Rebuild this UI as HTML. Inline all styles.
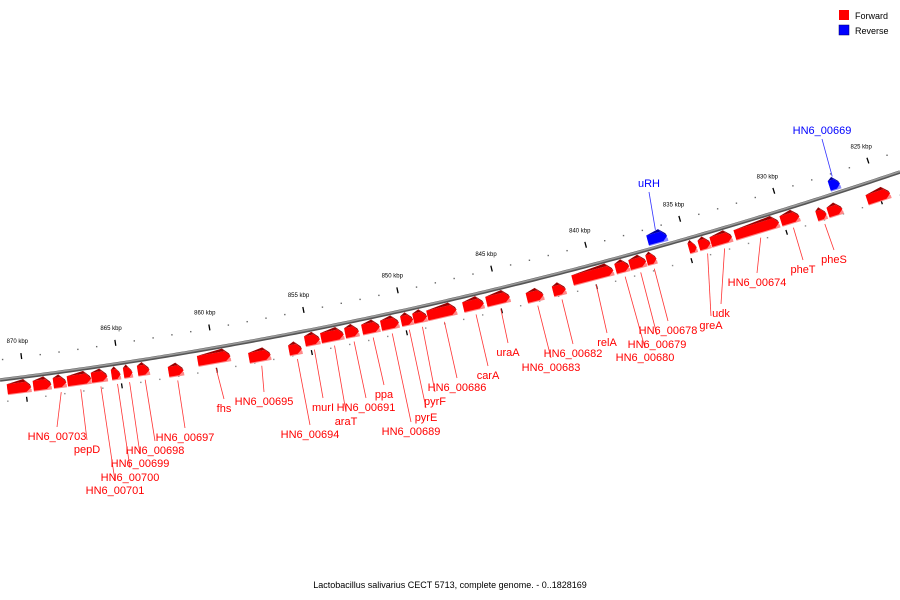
<!DOCTYPE html>
<html><head><meta charset="utf-8"><style>
body{margin:0;background:#fff;}
svg{display:block;font-family:"Liberation Sans",sans-serif;}
</style></head><body>
<svg id="map" width="900" height="600" viewBox="0 0 900 600" xmlns="http://www.w3.org/2000/svg">
<g>
<rect x="839" y="10" width="10" height="10" fill="#f00"/>
<text x="855" y="19" font-size="9" fill="#000">Forward</text>
<rect x="839" y="25" width="10" height="10" fill="#00f" stroke="#006" stroke-width="0.5"/>
<text x="855" y="34" font-size="9" fill="#000">Reverse</text>
</g>
<text x="450" y="588" font-size="9" text-anchor="middle" fill="#000">Lactobacillus salivarius CECT 5713, complete genome. - 0..1828169</text>
</svg>
<script>
// tick data (kbp)
const majorTicks = [870, 865, 860, 855, 850, 845, 840, 835, 830, 825];
const minorTicks = [871,869,868,867,866,864,863,862,861,859,858,857,856,854,853,852,851,849,848,847,846,844,843,842,841,839,838,837,836,834,833,832,831,829,828,827,826,824];
// forward genes (kbp)
const fwdStart = [870.95,869.58,868.52,867.78,866.51,865.45,864.81,864.07,862.49,860.90,858.25,856.14,855.24,854.39,853.12,852.22,851.22,850.16,849.52,848.78,846.88,845.66,843.60,842.22,841.11,838.84,838.10,837.20,834.97,834.44,833.81,832.54,830.11,828.31,827.72,825.66];
const fwdEnd   = [869.68,868.62,867.83,866.51,865.66,864.97,864.34,863.44,861.69,859.15,857.09,855.45,854.44,853.17,852.38,851.27,850.26,849.52,848.78,847.20,845.77,844.39,842.70,841.53,838.89,838.10,837.20,836.67,834.55,833.81,832.65,830.11,829.10,827.78,826.93,824.39];
const fwdLane  = [0,0,0,0,0,0,0,0,1,0,1,1,0,0,0,0,0,0,0,0,0,0,1,1,0,0,0,0,0,0,0,0,0,1,1,1];
// reverse genes
const revStart = [836.88, 827.25];
const revEnd   = [835.82, 826.67];
// labels: gene index, name, label position
const fwdLabelGene = [2,3,4,5,6,7,8,9,10,11,12,13,14,15,16,17,18,19,21,20,22,23,24,25,26,27,29,30,31,32,33];
const fwdLabelText = ["HN6_00703","pepD","HN6_00701","HN6_00700","HN6_00699","HN6_00698","HN6_00697","fhs","HN6_00695","HN6_00694","murI","araT","HN6_00691","ppa","HN6_00689","pyrE","pyrF","HN6_00686","uraA","carA","HN6_00683","HN6_00682","relA","HN6_00680","HN6_00679","HN6_00678","greA","udk","HN6_00674","pheT","pheS"];
const fwdLabelX = [57,87,115,130,140,155,185,224,264,310,323,346,366,384,411,426,435,457,508,488,551,573,607,645,657,668,711,721,757,803,834];
const fwdLabelY = [436,449,490,477,463,450,437,408,401,434,407,421,407,394,431,417,401,387,352,375,367,353,342,357,344,330,325,313,282,269,259];
const revLabelText = ["uRH","HN6_00669"];
const revLabelX = [649,822];
const revLabelY = [183,130];

const NS="http://www.w3.org/2000/svg";
const svg=document.getElementById('map');
function xOf(k){return 24+(870-k)*18.9;}
function curve(x){const t=x/900;return (1-t)*(1-t)*380+2*t*(1-t)*324+t*t*172;}
function slope(x){const t=x/900;return (2*(1-t)*(324-380)+2*t*(172-324))/900;}
function off(x,d){const a=Math.atan(slope(x));return [x-Math.sin(a)*d,curve(x)+Math.cos(a)*d];}
function mk(tag,attrs,parent){const e=document.createElementNS(NS,tag);for(const k in attrs)e.setAttribute(k,attrs[k]);(parent||svg).appendChild(e);return e;}

// backbone
let dPath="M0 "+curve(0);for(let x=5;x<=900;x+=5)dPath+=" L"+x+" "+curve(x).toFixed(2);
const bb2=mk('path',{d:dPath,fill:'none',stroke:'#555',"stroke-width":3.5});


const bb=mk('path',{d:dPath,fill:'none',stroke:'#999',"stroke-width":1.6,transform:'translate(0,-0.6)'});



// ticks
majorTicks.forEach(k=>{const x=xOf(k);const p1=off(x,-24),p2=off(x,-18);
 const l=mk('line',{x1:p1[0],y1:p1[1],x2:p2[0],y2:p2[1],stroke:'#000',"stroke-width":1.3});
 
 
 const lp=off(x,-36);
 const t=mk('text',{x:lp[0]-2,y:lp[1]+2,"font-size":6,"text-anchor":"middle",fill:'#000'});
 
 
 t.textContent=k+" kbp";
 const lb=off(x,20),lb2=off(x,25);
 const l2=mk('line',{x1:lb[0],y1:lb[1],x2:lb2[0],y2:lb2[1],stroke:'#000',"stroke-width":1.3});
 
 
});
minorTicks.forEach(k=>{const x=xOf(k);const p=off(x,-20);
 const c=mk('rect',{x:p[0]-0.7,y:p[1]-0.7,width:1.4,height:1.4,fill:'#666'});
 
 
 const q=off(x,22);
 const c2=mk('rect',{x:q[0]-0.7,y:q[1]-0.7,width:1.4,height:1.4,fill:'#888'});
 
 
});

function gene(k1,k2,d,main,dark,light,name){
 const x1=xOf(k1),x2=xOf(k2),xm=(x1+x2)/2;
 const a=Math.atan(slope(xm))*180/Math.PI;
 const p=off(x1,d);const L=x2-x1;const h=Math.min(5,L*0.4);
 const g=mk('g',{transform:`translate(${p[0].toFixed(2)},${p[1].toFixed(2)}) rotate(${a.toFixed(2)})`});
 
 
 mk('polygon',{points:`0,4 ${L-h},4 ${L},10 ${L},13 0,13`,fill:light},g);
 mk('polygon',{points:`0,2 ${L-h},2 ${L},8 ${L-h},12 0,12`,fill:main},g);
 mk('polygon',{points:`0,2 ${L-h-2},-1 ${L-h},2`,fill:dark},g);
 mk('polygon',{points:`${L-h-2},-1 ${L-h},2 ${L},8 ${L-1},5`,fill:dark},g);
 return g;
}
fwdStart.forEach((s,i)=>{gene(s,fwdEnd[i],fwdLane[i]?9:3,'#f00','#900','#f88','forward-gene');});
revStart.forEach((s,i)=>{gene(s,revEnd[i],-16,'#00f','#009','#88f','reverse-gene');});

fwdLabelGene.forEach((gi,i)=>{
 const xm=(xOf(fwdStart[gi])+xOf(fwdEnd[gi]))/2;const p=off(xm,(fwdLane[gi]?9:3)+17);
 const l=mk('line',{x1:p[0],y1:p[1],x2:fwdLabelX[i],y2:fwdLabelY[i]-9,stroke:'#f33',"stroke-width":0.8});
 
 
 const t=mk('text',{x:fwdLabelX[i],y:fwdLabelY[i]+4,"font-size":11,"text-anchor":"middle",fill:'#f00'});
 
 
 t.textContent=fwdLabelText[i];
});
revLabelText.forEach((txt,i)=>{
 const xm=(xOf(revStart[i])+xOf(revEnd[i]))/2;const p=off(xm,-17);
 const l=mk('line',{x1:p[0],y1:p[1],x2:revLabelX[i],y2:revLabelY[i]+9,stroke:'#33f',"stroke-width":0.8});
 
 
 const t=mk('text',{x:revLabelX[i],y:revLabelY[i]+4,"font-size":11,"text-anchor":"middle",fill:'#00f'});
 
 
 t.textContent=txt;
});
</script>
</body></html>
